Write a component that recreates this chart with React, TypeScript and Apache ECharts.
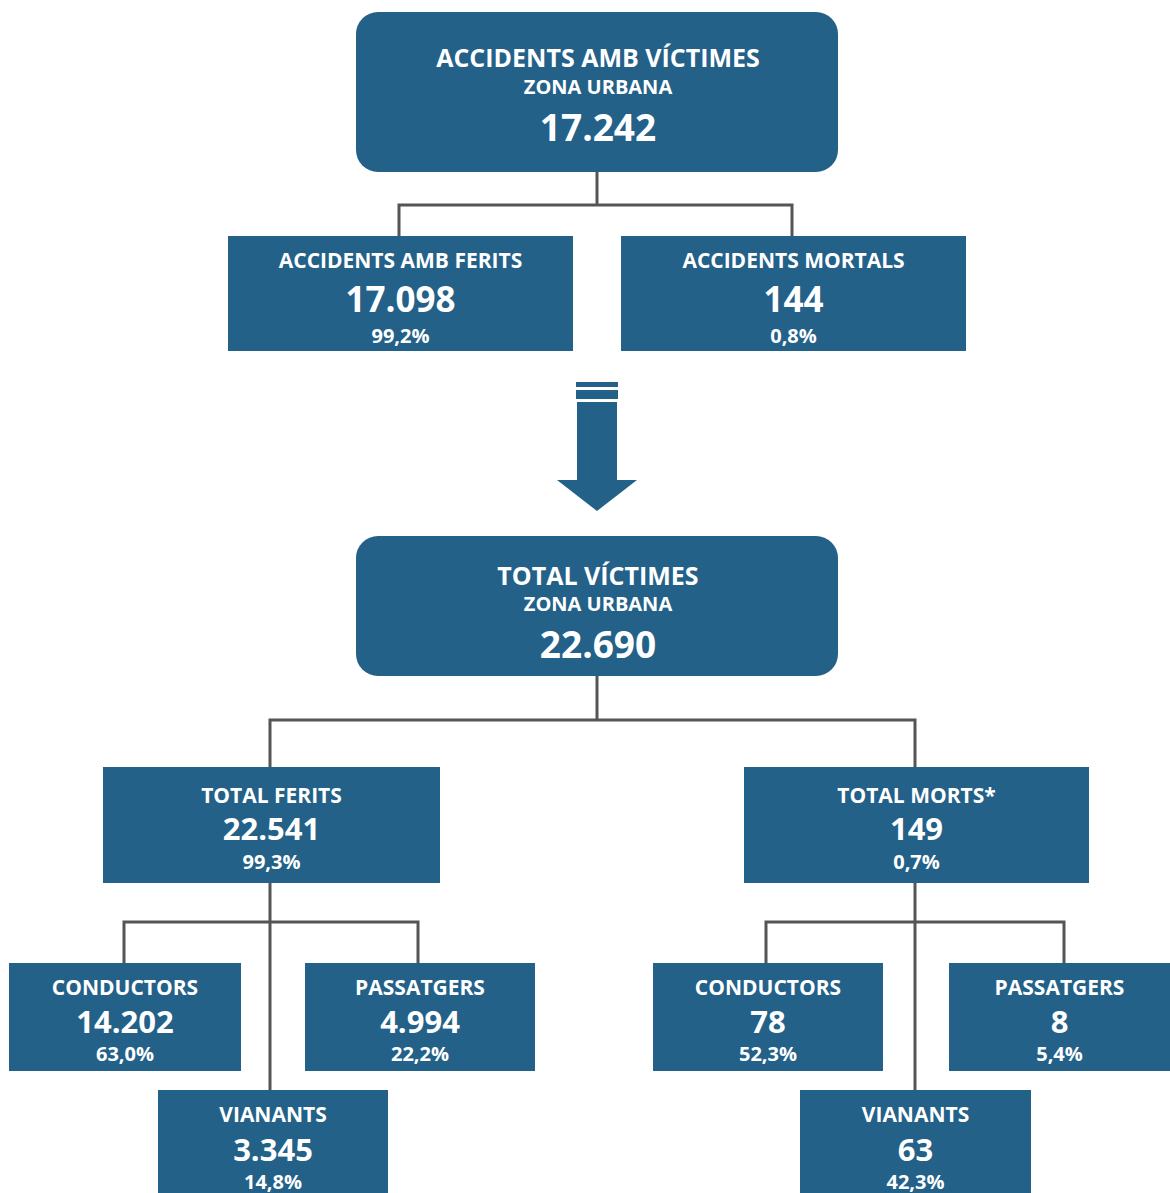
import React, { useEffect, useRef } from "react";
import * as echarts from "echarts";

const topTitle = ["ACCIDENTS AMB VÍCTIMES", "ZONA URBANA"];
const topValue = "17.242";
const accidentLabels = ["ACCIDENTS AMB FERITS", "ACCIDENTS MORTALS"];
const accidentValues = ["17.098", "144"];
const accidentPcts = ["99,2%", "0,8%"];

const victimTitle = ["TOTAL VÍCTIMES", "ZONA URBANA"];
const victimValue = "22.690";
const victimLabels = ["TOTAL FERITS", "TOTAL MORTS*"];
const victimValues = ["22.541", "149"];
const victimPcts = ["99,3%", "0,7%"];

const typeLabels = ["CONDUCTORS", "PASSATGERS", "VIANANTS"];
const feritsValues = ["14.202", "4.994", "3.345"];
const feritsPcts = ["63,0%", "22,2%", "14,8%"];
const mortsValues = ["78", "8", "63"];
const mortsPcts = ["52,3%", "5,4%", "42,3%"];

const BLUE = "#236189";
const LINE = "#555555";
const FONT = "'Open Sans', 'Noto Sans', sans-serif";

function txt(x: number, y: number, s: string, size: number) {
  return {
    type: "text",
    x,
    y,
    style: {
      text: s,
      fill: "#ffffff",
      font: `bold ${size}px ${FONT}`,
      lineHeight: size,
      textAlign: "center",
      textVerticalAlign: "middle",
    },
  };
}

function rect(x0: number, y0: number, x1: number, y1: number, r = 0) {
  return {
    type: "rect",
    shape: { x: x0, y: y0, width: x1 - x0, height: y1 - y0, r },
    style: { fill: BLUE },
  };
}

function pl(points: number[][]) {
  return {
    type: "polyline",
    shape: { points },
    style: { stroke: LINE, lineWidth: 3, fill: null },
  };
}

function smallBox(x0: number, y0: number, x1: number, y1: number, label: string, value: string, pct: string, ty: number[], sizes: number[]) {
  const cx = (x0 + x1) / 2;
  return [
    rect(x0, y0, x1, y1),
    txt(cx, ty[0], label, sizes[0]),
    txt(cx, ty[1], value, sizes[1]),
    txt(cx, ty[2], pct, sizes[2]),
  ];
}

export default function App() {
  const ref = useRef<HTMLDivElement>(null);
  useEffect(() => {
    document.body.style.margin = "0";
    const chart = echarts.init(ref.current!, null, { renderer: "svg" });
    const els: any[] = [];

    // connectors
    els.push(pl([[597, 172], [597, 205]]));
    els.push(pl([[399, 236], [399, 205], [792, 205], [792, 236]]));
    els.push(pl([[597, 676], [597, 720]]));
    els.push(pl([[270, 767], [270, 720], [915, 720], [915, 767]]));
    els.push(pl([[270, 883], [270, 1090]]));
    els.push(pl([[124, 963], [124, 922], [418, 922], [418, 963]]));
    els.push(pl([[915, 883], [915, 1090]]));
    els.push(pl([[766, 963], [766, 922], [1064, 922], [1064, 963]]));

    // top box
    els.push(rect(356, 12, 838, 172, 22));
    els.push(txt(598, 57, topTitle[0], 25));
    els.push(txt(598, 86, topTitle[1], 20));
    els.push(txt(598, 126, topValue, 37));

    const accBoxes = [[228, 573], [621, 966]];
    accBoxes.forEach((b, i) => {
      els.push(...smallBox(b[0], 236, b[1], 351, accidentLabels[i], accidentValues[i], accidentPcts[i], [260, 298, 335], [21, 35, 20]));
    });

    // arrow
    els.push(rect(576, 382, 618, 387));
    els.push(rect(576, 390, 618, 399));
    els.push(rect(577, 402, 617, 481));
    els.push({
      type: "polygon",
      shape: { points: [[557, 480], [637, 480], [597, 511]] },
      style: { fill: BLUE },
    });

    // second big box
    els.push(rect(356, 536, 838, 676, 22));
    els.push(txt(598, 575, victimTitle[0], 25));
    els.push(txt(598, 603, victimTitle[1], 20));
    els.push(txt(598, 643, victimValue, 37));

    const vicBoxes = [[103, 440], [744, 1089]];
    vicBoxes.forEach((b, i) => {
      els.push(...smallBox(b[0], 767, b[1], 883, victimLabels[i], victimValues[i], victimPcts[i], [795, 828, 861], [21, 31, 20]));
    });

    const leftType = [[9, 963, 241, 1071], [305, 963, 535, 1071], [158, 1090, 388, 1193]];
    const rightType = [[653, 963, 883, 1071], [949, 963, 1170, 1071], [800, 1090, 1031, 1193]];
    const rowY = (y0: number) => (y0 === 963 ? [987, 1021, 1053] : [1114, 1149, 1181]);
    leftType.forEach((b, i) => {
      els.push(...smallBox(b[0], b[1], b[2], b[3], typeLabels[i], feritsValues[i], feritsPcts[i], rowY(b[1]), [21, 31, 20]));
    });
    rightType.forEach((b, i) => {
      els.push(...smallBox(b[0], b[1], b[2], b[3], typeLabels[i], mortsValues[i], mortsPcts[i], rowY(b[1]), [21, 31, 20]));
    });

    chart.setOption({ animation: false, graphic: { elements: els } });
    return () => chart.dispose();
  }, []);
  return (
    <div
      ref={ref}
      style={{ position: "absolute", left: 0, top: 0, width: 1170, height: 1193, background: "#ffffff" }}
    />
  );
}
